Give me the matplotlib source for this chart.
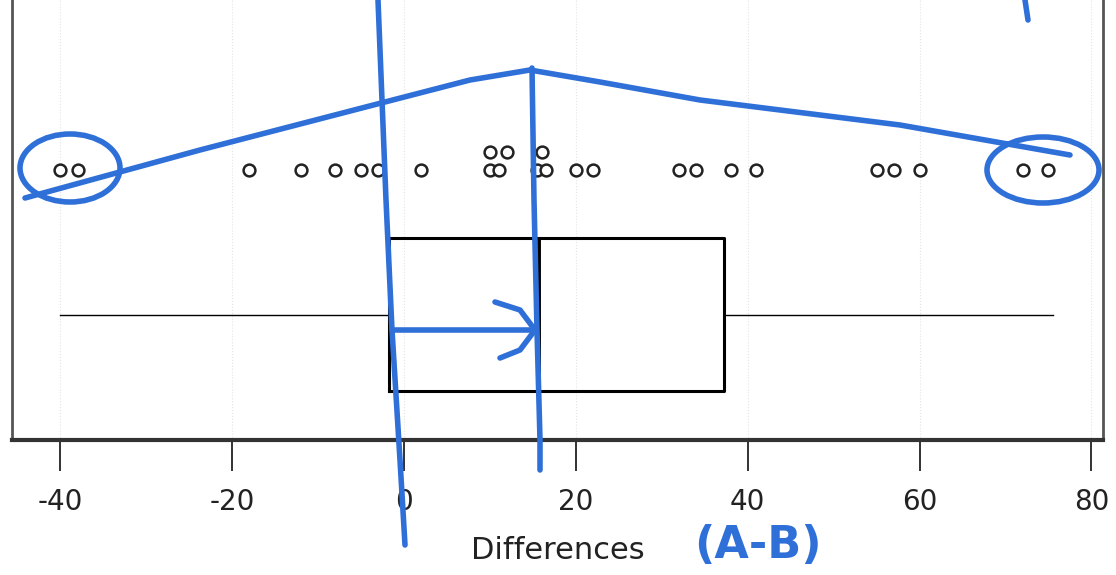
import numpy as np
import matplotlib.pyplot as plt
from matplotlib.patches import Ellipse

plt.rcParams['font.family'] = ['DejaVu Sans']

# Differences (A-B)
diff_low_row = [-40, -38, -18, -12, -8, -5, -3, 2, 10, 11, 15.5, 16.5, 20, 22,
                32, 34, 38, 41, 55, 57, 60, 72, 75]
diff_high_row = [10, 12, 16]

# box plot summary
box_q1 = -1.8
box_median = 15.7
box_q3 = 37.2
whisker_lo = -40
whisker_hi = 75.5

tick_values = [-40, -20, 0, 20, 40, 60, 80]

fig = plt.figure(figsize=(11.16, 5.75), dpi=100)
ax = fig.add_axes([0.011, 0.235, 0.977, 0.765])

ax.set_xlim(-45.6, 81.3)
ax.set_ylim(0, 10)

# faint grid
for t in tick_values:
    ax.axvline(t, color='#e4e4e4', lw=0.8, ls=':', zorder=0)

# dot plot
ax.plot(diff_low_row, [6.14] * len(diff_low_row), 'o', ms=8.5, mfc='white',
        mec='#222222', mew=1.8, zorder=3)
ax.plot(diff_high_row, [6.55] * len(diff_high_row), 'o', ms=8.5, mfc='white',
        mec='#222222', mew=1.8, zorder=3)

# box plot
stats = [dict(med=box_median, q1=box_q1, q3=box_q3,
              whislo=whisker_lo, whishi=whisker_hi, fliers=[])]
ax.bxp(stats, positions=[2.84], widths=3.48, vert=False, showcaps=False,
       boxprops=dict(color='black', lw=2.2),
       medianprops=dict(color='black', lw=2.8),
       whiskerprops=dict(color='black', lw=1))

ax.set_xticks(tick_values)
ax.set_xticklabels([str(t) for t in tick_values], fontsize=20, color='#222222')
ax.tick_params(axis='x', length=22, width=1.3, pad=13, color='#222222')
ax.set_yticks([])
ax.set_xlabel('Differences', fontsize=22, color='#222222', labelpad=14)

ax.spines['top'].set_visible(False)
ax.spines['left'].set_color('#555555')
ax.spines['left'].set_linewidth(2)
ax.spines['right'].set_color('#555555')
ax.spines['right'].set_linewidth(2)
ax.spines['bottom'].set_color('#333333')
ax.spines['bottom'].set_linewidth(3)

# handwritten blue annotations (figure pixel coords, y from top)
blue = '#2f6fd8'
H = 575.0
def px(xs, ys):
    return [x / 1116.0 for x in xs], [(H - y) / H for y in ys]

strokes = [
    ([378, 386, 392, 400, 405], [0, 200, 330, 460, 545]),
    ([532, 534, 537, 540, 540], [68, 200, 330, 440, 470]),
    ([25, 200, 385, 470, 530, 600, 700, 900, 1070],
     [198, 150, 102, 80, 70, 82, 100, 125, 155]),
    ([392, 470, 535], [330, 330, 330]),
    ([495, 520, 535, 520, 500], [302, 310, 330, 350, 358]),
    ([1025, 1028], [0, 20]),
]
for xs, ys in strokes:
    fx, fy = px(xs, ys)
    fig.add_artist(plt.Line2D(fx, fy, color=blue, lw=4, solid_capstyle='round',
                              transform=fig.transFigure))

for cx, cy, w, h in [(70, 168, 100, 68), (1043, 170, 112, 66)]:
    fx, fy = px([cx], [cy])
    fig.add_artist(Ellipse((fx[0], fy[0]), w / 1116.0, h / H, fill=False,
                           ec=blue, lw=4, transform=fig.transFigure))

fig.text(758 / 1116.0, (H - 545) / H, '(A-B)', color=blue, fontsize=32,
         fontweight='bold', ha='center', va='center')

fig.savefig('out.png', dpi=100)
